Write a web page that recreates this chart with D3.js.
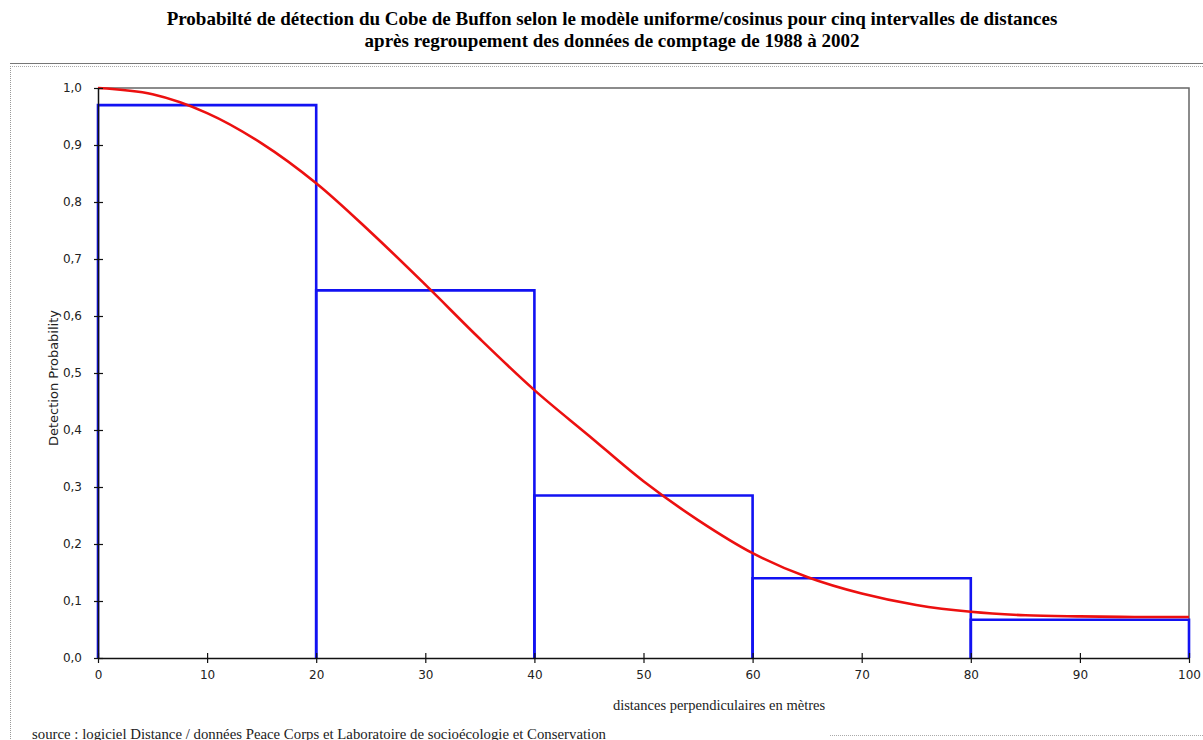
<!DOCTYPE html>
<html>
<head>
<meta charset="utf-8">
<script src="https://cdnjs.cloudflare.com/ajax/libs/d3/7.8.5/d3.min.js"></script>
<style>
  body { margin: 0; background: #fff; }
  .tick text { font-family: "DejaVu Sans", Tahoma, sans-serif; font-size: 12px; fill: #222; }
</style>
</head>
<body>
<svg class="chart" width="1203" height="740"></svg>
<script>
// detection probability chart - histogram of 5 distance classes + fitted curve

var titleLines = ["Probabilté de détection du Cobe de Buffon selon le modèle uniforme/cosinus pour cinq intervalles de distances",
                  "après regroupement des données de comptage de 1988 à 2002"];

// distance classes (m) and observed detection probability
var classStart = [0, 20, 40, 60, 80];
var classEnd   = [20, 40, 60, 80, 100];
var classProb  = [0.970, 0.645, 0.285, 0.140, 0.067];

// fitted curve, read every 5 m
var curveX = [0, 5, 10, 15, 20, 25, 30, 35, 40, 45, 50, 55, 60, 65, 70, 75, 80, 85, 90, 95, 100];
var curveY = [1.0, 0.989, 0.956, 0.903, 0.833, 0.747, 0.655, 0.56, 0.47, 0.39, 0.31, 0.242, 0.184, 0.142, 0.113, 0.093, 0.081, 0.075, 0.073, 0.072, 0.072];

var xTicks = d3.range(0, 101, 10);
var yTicks = d3.range(0, 11).map(d => d / 10);

var svg = d3.select(".chart");
var mLeft = 98, mRight = 1189, mTop = 88, mBottom = 658;

var x = d3.scaleLinear().domain([0, 100]).range([mLeft, mRight]);
var y = d3.scaleLinear().domain([0, 1]).range([mBottom, mTop]);

// titles
svg.selectAll(".title")
    .data(titleLines)
    .enter().append("text")
    .attr("x", 612)
    .attr("y", (d, i) => 25 + i * 22)
    .attr("text-anchor", "middle")
    .style("font-family", "'Liberation Serif', 'Times New Roman', serif")
    .style("font-weight", "bold")
    .style("font-size", "19px")
    .text(d => d);

// outer frame (grey double line on top, dotted on the left)
svg.append("line").attr("x1", 10).attr("x2", 1203).attr("y1", 63.5).attr("y2", 63.5)
    .attr("stroke", "#777").attr("stroke-width", 1.2);
svg.append("line").attr("x1", 10).attr("x2", 1203).attr("y1", 66.5).attr("y2", 66.5)
    .attr("stroke", "#aaa").attr("stroke-dasharray", "1,1");
svg.append("line").attr("x1", 10.5).attr("x2", 10.5).attr("y1", 66).attr("y2", 740)
    .attr("stroke", "#999").attr("stroke-dasharray", "1,1");
svg.append("line").attr("x1", 830).attr("x2", 1203).attr("y1", 735.5).attr("y2", 735.5)
    .attr("stroke", "#aaa").attr("stroke-dasharray", "1,1");

// plot area border (top + right)
svg.append("path")
    .attr("d", `M${mLeft},${mTop}H${mRight}V${mBottom}`)
    .attr("fill", "none").attr("stroke", "#666").attr("stroke-width", 1.5);

// histogram bars (open at the bottom, the axis closes them)
svg.append("g")
    .selectAll("path")
    .data(classProb)
    .enter().append("path")
    .attr("d", (d, i) => `M${x(classStart[i])},${y(0)}V${y(d)}H${x(classEnd[i])}V${y(0)}`)
    .attr("fill", "none")
    .attr("stroke", "#1212f2")
    .attr("stroke-width", 2.6);

// fitted curve
var line = d3.line()
    .x(d => x(d[0]))
    .y(d => y(d[1]))
    .curve(d3.curveCatmullRom.alpha(0.5));

svg.append("path")
    .datum(curveX.map((d, i) => [d, curveY[i]]))
    .attr("d", line)
    .attr("fill", "none")
    .attr("stroke", "#ec1010")
    .attr("stroke-width", 2.6);

// axes
var fmt = d3.format(".1f");
var yAxis = d3.axisLeft(y).tickValues(yTicks)
    .tickFormat(d => fmt(d).replace(".", ","))
    .tickSizeInner(4).tickSizeOuter(0).tickPadding(12);
var yg = svg.append("g").attr("transform", `translate(${mLeft},0)`).call(yAxis);
yg.selectAll(".tick line").attr("x2", 5).attr("x1", -4);

var xAxis = d3.axisBottom(x).tickValues(xTicks)
    .tickSizeInner(5).tickSizeOuter(0).tickPadding(7);
var xg = svg.append("g").attr("transform", `translate(0,${mBottom})`).call(xAxis);
xg.selectAll(".tick line").attr("y1", -5).attr("y2", 5);

svg.selectAll(".domain").attr("stroke", "#111").attr("stroke-width", 1.5);
svg.selectAll(".tick line").attr("stroke", "#111").attr("stroke-width", 1.2);

// axis titles
svg.append("text")
    .attr("transform", "translate(58,378) rotate(-90)")
    .attr("text-anchor", "middle")
    .attr("textLength", 136)
    .attr("lengthAdjust", "spacingAndGlyphs")
    .style("font-family", "'DejaVu Sans', Tahoma, sans-serif")
    .style("font-size", "12.5px")
    .style("fill", "#222")
    .text("Detection Probability");

svg.append("text")
    .attr("x", 719)
    .attr("y", 710)
    .attr("text-anchor", "middle")
    .style("font-family", "'Liberation Serif', 'Times New Roman', serif")
    .style("font-size", "14.5px")
    .style("fill", "#222")
    .text("distances perpendiculaires en mètres");

// source note (cut at the bottom edge like the original)
svg.append("text")
    .attr("x", 32)
    .attr("y", 739)
    .style("font-family", "'Liberation Serif', 'Times New Roman', serif")
    .style("font-size", "14.8px")
    .style("fill", "#222")
    .text("source : logiciel Distance / données Peace Corps et Laboratoire de socioécologie et Conservation");
</script>
</body>
</html>
